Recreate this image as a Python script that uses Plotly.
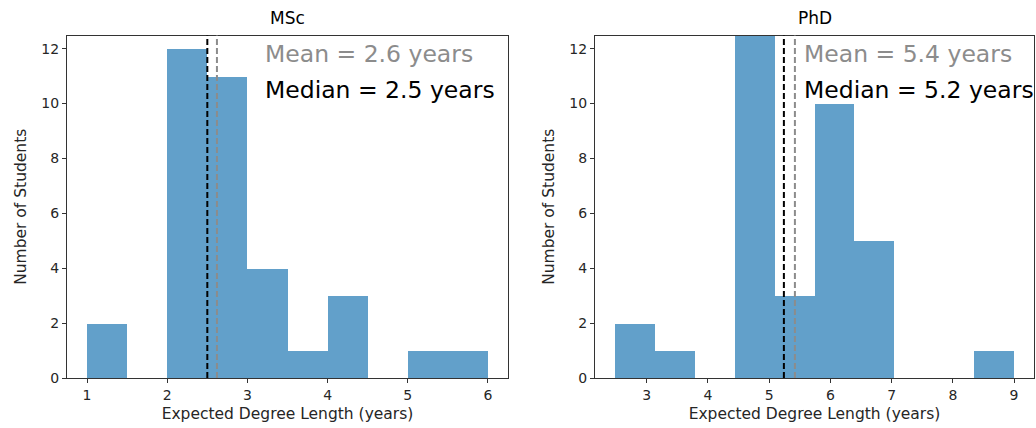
import plotly.graph_objects as go

# ---- data ----
msc_bin_start = 1.0
msc_bin_width = 0.5
msc_counts = [2, 0, 12, 11, 4, 1, 3, 0, 1, 1]
msc_mean = 2.62
msc_median = 2.5

phd_bin_start = 2.48
phd_bin_width = 0.652
phd_counts = [2, 1, 0, 14, 3, 10, 5, 0, 0, 1]
phd_mean = 5.42
phd_median = 5.24

msc_xticks = [1, 2, 3, 4, 5, 6]
phd_xticks = [3, 4, 5, 6, 7, 8, 9]
yticks = [0, 2, 4, 6, 8, 10, 12]

titles = ["MSc", "PhD"]
mean_labels = ["Mean = 2.6 years", "Mean = 5.4 years"]
median_labels = ["Median = 2.5 years", "Median = 5.2 years"]

BAR = "rgb(98,160,202)"
FONT = "DejaVu Sans"
AX = "#333333"
TXT = "#262626"

W, H = 1036, 428
fig = go.Figure()

def centers(start, width, n):
    return [start + width * (i + 0.5) for i in range(n)]

fig.add_trace(go.Bar(x=centers(msc_bin_start, msc_bin_width, len(msc_counts)), y=msc_counts,
                     width=msc_bin_width, marker=dict(color=BAR, line=dict(width=0)),
                     xaxis="x", yaxis="y", showlegend=False, hoverinfo="skip"))
fig.add_trace(go.Bar(x=centers(phd_bin_start, phd_bin_width, len(phd_counts)), y=phd_counts,
                     width=phd_bin_width, marker=dict(color=BAR, line=dict(width=0)),
                     xaxis="x2", yaxis="y2", showlegend=False, hoverinfo="skip"))

def xr(lo, hi):
    span = hi - lo
    return [lo - 0.05 * span, hi + 0.05 * span]

msc_range = xr(msc_bin_start, msc_bin_start + msc_bin_width * len(msc_counts))
phd_range = xr(phd_bin_start, phd_bin_start + phd_bin_width * len(phd_counts))

ytop = 12.48
y_dom = [1 - 378 / H, 1 - 35.5 / H]

axis_common = dict(showgrid=False, zeroline=False, showline=True, linecolor=AX, linewidth=1,
                   mirror=True, ticks="outside", ticklen=4, tickcolor=AX, tickwidth=1,
                   automargin=False,
                   tickfont=dict(family=FONT, size=14, color=TXT))
title_font = dict(family=FONT, size=15.5, color=TXT)

fig.update_layout(
    width=W, height=H, margin=dict(l=0, r=0, t=0, b=0, autoexpand=False),
    plot_bgcolor="white", paper_bgcolor="white", bargap=0,
    xaxis=dict(domain=[67 / W, 508 / W], range=msc_range, tickvals=msc_xticks, anchor="y",
               title=dict(text="Expected Degree Length (years)", font=title_font, standoff=6),
               **axis_common),
    yaxis=dict(domain=y_dom, range=[0, ytop], tickvals=yticks, anchor="x",
               title=dict(text="Number of Students", font=title_font, standoff=10),
               **axis_common),
    xaxis2=dict(domain=[595 / W, 1034 / W], range=phd_range, tickvals=phd_xticks, anchor="y2",
                title=dict(text="Expected Degree Length (years)", font=title_font, standoff=6),
                **axis_common),
    yaxis2=dict(domain=y_dom, range=[0, ytop], tickvals=yticks, anchor="x2",
                title=dict(text="Number of Students", font=title_font, standoff=10),
                **axis_common),
)

for i, (xa, mean, med) in enumerate([("x", msc_mean, msc_median), ("x2", phd_mean, phd_median)]):
    ya = "y" if i == 0 else "y2"
    fig.add_shape(type="line", xref=xa, yref=f"{ya} domain", x0=med, x1=med, y0=0, y1=1,
                  line=dict(color="black", width=2, dash="6px,3px"))
    fig.add_shape(type="line", xref=xa, yref=f"{ya} domain", x0=mean, x1=mean, y0=0, y1=1,
                  line=dict(color="#8c8c8c", width=2, dash="6px,3px"))

# titles
for dom, t in [([67 / W, 508 / W], titles[0]), ([595 / W, 1034 / W], titles[1])]:
    fig.add_annotation(text=t, xref="paper", yref="paper", x=(dom[0] + dom[1]) / 2, y=1 - 18 / H,
                       showarrow=False, font=dict(family=FONT, size=17, color="black"),
                       xanchor="center", yanchor="middle")

text_x = [3.2, 5.53]
for i, xa in enumerate(["x", "x2"]):
    ya = "y" if i == 0 else "y2"
    fig.add_annotation(text=mean_labels[i], xref=xa, yref=ya, x=text_x[i], y=11.8,
                       showarrow=False, font=dict(family=FONT, size=23.5, color="#8c8c8c"),
                       xanchor="left", yanchor="middle")
    fig.add_annotation(text=median_labels[i], xref=xa, yref=ya, x=text_x[i], y=10.5,
                       showarrow=False, font=dict(family=FONT, size=23.5, color="black"),
                       xanchor="left", yanchor="middle")

fig.write_html("out.html")
